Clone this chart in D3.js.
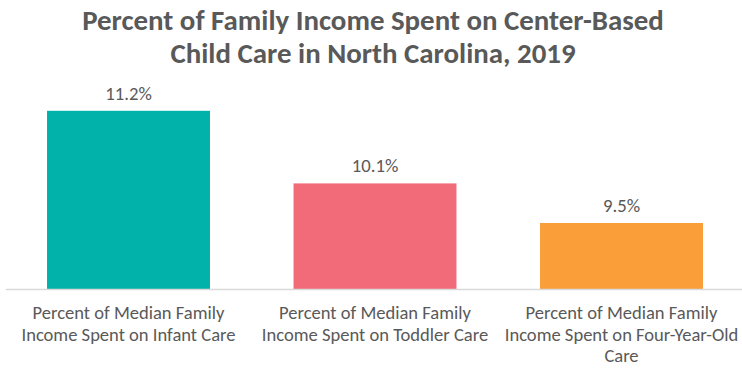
<!DOCTYPE html>
<html>
<head>
<meta charset="utf-8">
<script src="https://cdn.jsdelivr.net/npm/d3@7"></script>
<style>
  html, body { margin: 0; padding: 0; background: #fff; }
  svg { display: block; }
  text { font-family: Calibri, Carlito, Lato, "Open Sans", sans-serif; fill: #595959; }
</style>
</head>
<body>
<svg id="chart" width="742" height="370"></svg>
<script>
// Share of median family income spent on center-based child care, NC 2019
const titleLines = [
  "Percent of Family Income Spent on Center-Based",
  "Child Care in North Carolina, 2019"
];
const categoryLines = [
  ["Percent of Median Family", "Income Spent on Infant Care"],
  ["Percent of Median Family", "Income Spent on Toddler Care"],
  ["Percent of Median Family", "Income Spent on Four-Year-Old", "Care"]
];
const categories = categoryLines.map(l => l.join(" "));
const values = [11.2, 10.1, 9.5];
const barColors = ["#00B2A9", "#F26B79", "#F99E39"];
const yDomain = [8.5, 12];

const svg = d3.select("#chart");

// scale a text group's font size so a reference line reaches a target width
function fitFont(sel, refNode, target) {
  const base = parseFloat(sel.attr("font-size"));
  const w = refNode.getComputedTextLength();
  sel.attr("font-size", (base * target / w).toFixed(2));
}

const x = d3.scaleBand()
  .domain(categories)
  .range([5.25, 744.75])
  .paddingInner(0.339)
  .paddingOuter(0.1695);

const y = d3.scaleLinear().domain(yDomain).range([289, 58]);

// title
const title = svg.append("g").attr("font-size", 24).attr("font-weight", "bold");
const tLines = title.selectAll("text").data(titleLines).join("text")
  .attr("x", 373)
  .attr("y", (d, i) => 30 + i * 32.5)
  .attr("text-anchor", "middle")
  .text(d => d);
fitFont(title, tLines.node(), 582);

// bars
svg.append("g").selectAll("rect").data(values).join("rect")
  .attr("x", (d, i) => x(categories[i]))
  .attr("y", d => y(d))
  .attr("width", x.bandwidth())
  .attr("height", d => y(yDomain[0]) - y(d))
  .attr("fill", (d, i) => barColors[i]);

// value labels
const vals = svg.append("g").attr("font-size", 18);
const vText = vals.selectAll("text").data(values).join("text")
  .attr("x", (d, i) => x(categories[i]) + x.bandwidth() / 2)
  .attr("y", d => y(d) - 11)
  .attr("text-anchor", "middle")
  .text(d => d.toFixed(1) + "%");
fitFont(vals, vText.node(), 46.5);

// category axis baseline
const axis = svg.append("g")
  .attr("transform", `translate(0,${y(yDomain[0])})`)
  .call(d3.axisBottom(x).tickSize(0).tickSizeOuter(0));
axis.selectAll(".tick").remove();
axis.select(".domain").attr("stroke", "#D9D9D9").attr("stroke-width", 1.5);

// wrapped category labels, one text per line
const lineData = categoryLines.flatMap((lines, i) =>
  lines.map((t, j) => ({ cat: categories[i], text: t, row: j })));
const cats = svg.append("g").attr("font-size", 16);
const catText = cats.selectAll("text").data(lineData).join("text")
  .attr("text-anchor", "middle")
  .attr("x", d => x(d.cat) + x.bandwidth() / 2)
  .attr("y", d => 319 + d.row * 21.5)
  .text(d => d.text);
fitFont(cats, catText.node(), 192);
</script>
</body>
</html>
